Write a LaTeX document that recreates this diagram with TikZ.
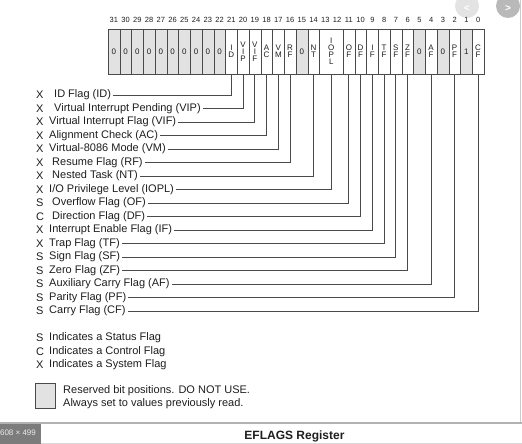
\documentclass[tikz,border=0pt]{standalone}
\usepackage{fontspec}
\setmainfont{Liberation Sans}
\usetikzlibrary{positioning}
\definecolor{linec}{HTML}{4A4A4A}
\definecolor{txtc}{HTML}{1E1E1E}
\definecolor{rsvgray}{HTML}{E2E2E2}
\definecolor{badgec}{HTML}{7C7C7C}

\begin{document}
\begin{tikzpicture}[
  x=1pt, y=-1pt,
  cell/.style={draw=linec, fill=white, minimum width=11.75pt,
    minimum height=45pt, inner sep=0pt, align=center, text=txtc,
    font=\fontsize{8}{7}\selectfont},
  rsv/.style={cell, fill=rsvgray},
  bitno/.style={inner sep=0pt, text=txtc, font=\fontsize{7.5}{8}\selectfont},
  kind/.style={anchor=west, inner sep=0pt, text=txtc,
    font=\fontsize{11}{13}\selectfont},
  flag/.style={anchor=west, inner xsep=2pt, inner ysep=0pt, text=txtc,
    text height=7.5pt, text depth=2pt, font=\fontsize{11}{13}\selectfont},
  wire/.style={draw=linec, line width=0.9pt}
]
\useasboundingbox (0,0) rectangle (522,444);

% viewer buttons
\fill[gray!22] (467,6) circle (12pt);
\node[text=white, font=\bfseries\fontsize{10}{10}\selectfont] (prevbtn) at (467,8) {<};
\fill[gray!55] (508,6) circle (12pt);
\node[text=white, font=\bfseries\fontsize{10}{10}\selectfont] (nextbtn) at (508,8) {>};

% bit numbers
\foreach \b in {0,...,31}
  \node[bitno] (no\b) at ({108+(31-\b+0.5)*11.75}, 20) {\b};

% register cells
\foreach \b in {31,...,22}
  \node[rsv] (bit\b) at ({108+(31-\b+0.5)*11.75}, 51.5) {0};
\foreach \b/\t/\s in {21/{I\\D}/cell, 20/{V\\I\\P}/cell, 19/{V\\I\\F}/cell,
    18/{A\\C}/cell, 17/{V\\M}/cell, 16/{R\\F}/cell, 15/{0}/rsv,
    14/{N\\T}/cell, 11/{O\\F}/cell, 10/{D\\F}/cell, 9/{I\\F}/cell,
    8/{T\\F}/cell, 7/{S\\F}/cell, 6/{Z\\F}/cell, 5/{0}/rsv,
    4/{A\\F}/cell, 3/{0}/rsv, 2/{P\\F}/cell, 1/{1}/rsv, 0/{C\\F}/cell}
  \node[\s] (bit\b) at ({108+(31-\b+0.5)*11.75}, 51.5) {\t};
\node[cell, minimum width=23.5pt] (bit13) at ({108+19*11.75}, 51.5) {I\\O\\P\\L};

% flag labels and leads
\foreach \k/\t/\b/\lx [count=\i from 0] in {
    X/ID Flag (ID)/21/54,
    X/Virtual Interrupt Pending (VIP)/20/54,
    X/Virtual Interrupt Flag (VIF)/19/49,
    X/Alignment Check (AC)/18/49,
    X/Virtual-8086 Mode (VM)/17/49,
    X/Resume Flag (RF)/16/52,
    X/Nested Task (NT)/14/52,
    X/{I/O Privilege Level (IOPL)}/13/49,
    S/Overflow Flag (OF)/11/52,
    C/Direction Flag (DF)/10/52,
    X/Interrupt Enable Flag (IF)/9/49,
    X/Trap Flag (TF)/8/49,
    S/Sign Flag (SF)/7/49,
    S/Zero Flag (ZF)/6/49,
    S/Auxiliary Carry Flag (AF)/4/49,
    S/Parity Flag (PF)/2/49,
    S/Carry Flag (CF)/0/49}{
  \node[kind] (k\b) at (36, {95+13.5*\i}) {\k};
  \node[flag] (lbl\b) at ({\lx-2}, {95+13.5*\i}) {\t};
  \draw[wire] (lbl\b.east) -| (bit\b.south);
}

% legend
\node[kind] (lgS) at (36,338) {S};
\node[flag] (lgStxt) at (47,338) {Indicates a Status Flag};
\node[kind] (lgC) at (36,351.5) {C};
\node[flag] (lgCtxt) at (47,351.5) {Indicates a Control Flag};
\node[kind] (lgX) at (36,365) {X};
\node[flag] (lgXtxt) at (47,365) {Indicates a System Flag};
\node[draw=linec, fill=rsvgray, minimum width=20pt, minimum height=25pt,
  inner sep=0pt] (lgbox) at (45,395.5) {};
\node[flag] (lgrsv1) at (61,391) {Reserved bit positions. DO NOT USE.};
\node[flag] (lgrsv2) at (61,404) {Always set to values previously read.};

% frame and caption
\draw[gray!40, line width=0.8pt] (520,0) -- (520,423);
\draw[gray!60, line width=1.2pt] (0,423) -- (522,423);
\draw[gray!30, line width=0.6pt] (0,443.5) -- (522,443.5);
\fill[badgec] (0,423.6) rectangle (41,444);
\node[text=white!92!black, font=\fontsize{8}{9}\selectfont] (badge) at (18,433) {608 × 499};
\node[text=txtc, font=\bfseries\fontsize{12}{14}\selectfont] (title) at (294.5,436.5) {EFLAGS Register};
\end{tikzpicture}
\end{document}
